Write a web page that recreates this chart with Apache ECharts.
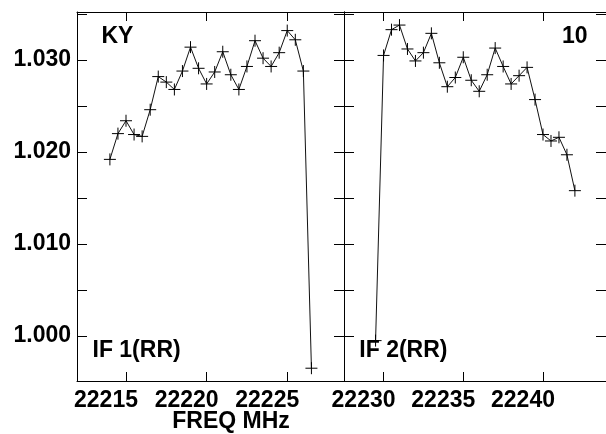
<!DOCTYPE html>
<html>
<head>
<meta charset="utf-8">
<script src="https://cdn.jsdelivr.net/npm/echarts@6/dist/echarts.min.js"></script>
<style>
html,body{margin:0;padding:0;background:#fff;}
#chart{width:606px;height:434px;}
</style>
</head>
<body>
<div id="chart"></div>
<script>
// ---- data ----
var leftFreq = [22214, 22214.5, 22215, 22215.5, 22216, 22216.5, 22217, 22217.5, 22218, 22218.5,
  22219, 22219.5, 22220, 22220.5, 22221, 22221.5, 22222, 22222.5, 22223, 22223.5,
  22224, 22224.5, 22225, 22225.5, 22226, 22226.5];
var leftVals = [1.0192, 1.0220, 1.0234, 1.0219, 1.0217, 1.0246, 1.0282, 1.0276, 1.0268, 1.0288,
  1.0314, 1.0291, 1.0274, 1.0287, 1.0309, 1.0284, 1.0268, 1.0293, 1.0321, 1.0302,
  1.0293, 1.0308, 1.0332, 1.0322, 1.0288, 0.9965];
var rightFreq = [22229.5, 22230, 22230.5, 22231, 22231.5, 22232, 22232.5, 22233, 22233.5, 22234,
  22234.5, 22235, 22235.5, 22236, 22236.5, 22237, 22237.5, 22238, 22238.5, 22239,
  22239.5, 22240, 22240.5, 22241, 22241.5, 22242];
var rightVals = [0.9995, 1.0305, 1.0333, 1.0338, 1.0312, 1.0299, 1.0308, 1.0329, 1.0297, 1.0271,
  1.0281, 1.0303, 1.0278, 1.0266, 1.0284, 1.0313, 1.0293, 1.0274, 1.0283, 1.0292,
  1.0257, 1.0219, 1.0212, 1.0216, 1.0197, 1.0158];
var leftXTicks = [22215, 22220, 22225];
var rightXTicks = [22230, 22235, 22240];
var yLabelTicks = [1.000, 1.010, 1.020, 1.030];
var yAllTicks = [1.000, 1.005, 1.010, 1.015, 1.020, 1.025, 1.030, 1.035];
var titleLeft = 'KY';
var titleRight = '10';
var panelLeft = 'IF 1(RR)';
var panelRight = 'IF 2(RR)';
var xName = 'FREQ MHz';

// ---- chart ----
var FONT = 'Liberation Sans, Arial, Helvetica, sans-serif';
var INK = '#000';
var chart = echarts.init(document.getElementById('chart'), null, {renderer: 'canvas'});

function pairs(xs, ys) { return xs.map(function (x, i) { return [x, ys[i]]; }); }

function xAxisDef(gi, pos, lo, hi, ticks, showLabel) {
  return {
    type: 'value', gridIndex: gi, position: pos, min: lo, max: hi,
    splitLine: {show: false},
    axisLine: {show: true, onZero: false, lineStyle: {color: INK, width: 1}},
    axisTick: {show: true, inside: true, length: 9, customValues: ticks, lineStyle: {color: INK, width: 1}},
    axisLabel: {show: showLabel, customValues: ticks, margin: 8, color: INK,
      fontFamily: FONT, fontWeight: 'bold', fontSize: 23,
      align: 'center', padding: [0, 40, 0, 0],
      hideOverlap: false, showMinLabel: true, showMaxLabel: true,
      formatter: function (v) { return String(Math.round(v)); }}
  };
}
function yAxisDef(gi, pos, showLabel) {
  return {
    type: 'value', gridIndex: gi, position: pos, min: 0.99511, max: 1.03522,
    splitLine: {show: false},
    axisLine: {show: true, onZero: false, lineStyle: {color: INK, width: 1}},
    axisTick: {show: true, inside: true, length: 10, customValues: yAllTicks, lineStyle: {color: INK, width: 1}},
    axisLabel: {show: showLabel, customValues: yLabelTicks, margin: 6, color: INK,
      fontFamily: FONT, fontWeight: 'bold', fontSize: 23,
      formatter: function (v) { return v.toFixed(3); }}
  };
}

var cross = 'path://M6,0L6,12M0,6L12,6';
function lineSeries(xi, yi, xs, ys) {
  return {
    type: 'line', xAxisIndex: xi, yAxisIndex: yi,
    data: pairs(xs, ys),
    symbol: cross, symbolSize: 12, showAllSymbol: true,
    lineStyle: {color: '#111', width: 1},
    itemStyle: {color: 'rgba(0,0,0,0)', borderColor: INK, borderWidth: 1},
    emphasis: {disabled: true},
    animation: false, silent: true, clip: true
  };
}

function txt(x, y, s, align) {
  return {type: 'text', x: x, y: y, silent: true,
    style: {text: s, fill: INK, font: 'bold 23px ' + FONT, textAlign: align, textVerticalAlign: 'middle'}};
}

chart.setOption({
  animation: false,
  backgroundColor: '#fff',
  grid: [
    {left: 77, top: 12, width: 267, height: 369},
    {left: 344, top: 12, width: 265, height: 369}
  ],
  xAxis: [
    xAxisDef(0, 'bottom', 22211.96, 22228.52, leftXTicks, true),
    xAxisDef(0, 'top', 22211.96, 22228.52, leftXTicks, false),
    xAxisDef(1, 'bottom', 22227.52, 22243.95, rightXTicks, true),
    xAxisDef(1, 'top', 22227.52, 22243.95, rightXTicks, false)
  ],
  yAxis: [
    yAxisDef(0, 'left', true),
    yAxisDef(0, 'right', false),
    yAxisDef(1, 'left', false),
    yAxisDef(1, 'right', false)
  ],
  series: [
    lineSeries(0, 0, leftFreq, leftVals),
    lineSeries(2, 2, rightFreq, rightVals)
  ],
  graphic: [
    txt(101.5, 37, titleLeft, 'left'),
    txt(587.5, 37, titleRight, 'right'),
    txt(92.5, 351, panelLeft, 'left'),
    txt(359.3, 351, panelRight, 'left'),
    txt(231, 421.5, xName, 'center')
  ]
});
</script>
</body>
</html>
